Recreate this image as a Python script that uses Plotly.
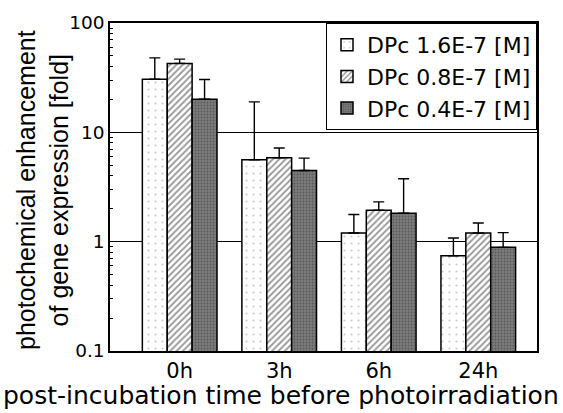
import plotly.graph_objects as go

categories = ["0h", "3h", "6h", "24h"]
series_names = ["DPc 1.6E-7 [M]", "DPc 0.8E-7 [M]", "DPc 0.4E-7 [M]"]
vals_16 = [30.6, 5.6, 1.20, 0.744]
vals_08 = [42.7, 5.86, 1.94, 1.20]
vals_04 = [20.1, 4.48, 1.82, 0.887]
err_top_16 = [48.0, 19.0, 1.77, 1.08]
err_top_08 = [46.7, 7.18, 2.31, 1.48]
err_top_04 = [30.4, 5.81, 3.76, 1.21]
x_title = "post-incubation time before photoirradiation"
y_title = "photochemical enhancement<br>of gene expression [fold]"

styles = [
    dict(bg="#ffffff", fg="#9a9a9a", shape=".", size=7, solidity=0.08),
    dict(bg="#ffffff", fg="#333333", shape="/", size=4.5, solidity=0.4),
    dict(bg="#7c7c7c", fg="#333333", shape=".", size=3, solidity=0.3),
]

WIDE = "DejaVu Sans, sans-serif"
NARROW = "Liberation Sans, Arial, sans-serif"

PL, PR, PT, PB = 110, 537, 23, 351
PW, PH = PR - PL, PB - PT

fig = go.Figure()
for name, vals, tops, st in zip(series_names,
                                [vals_16, vals_08, vals_04],
                                [err_top_16, err_top_08, err_top_04],
                                styles):
    plus = [t - v for t, v in zip(tops, vals)]
    fig.add_trace(go.Bar(
        x=categories, y=vals, name=name, legendgroup=name,
        marker=dict(color=st["bg"],
                    line=dict(color="black", width=1.5),
                    pattern=dict(shape=st["shape"], fgcolor=st["fg"], bgcolor=st["bg"],
                                 size=st["size"], solidity=st["solidity"])),
        error_y=dict(type="data", symmetric=False, array=plus,
                     arrayminus=[0] * len(vals), color="black",
                     thickness=1.4, width=5.5),
    ))

fig.update_layout(
    width=563, height=413,
    margin=dict(l=PL, r=563 - PR, t=PT, b=413 - PB),
    paper_bgcolor="white", plot_bgcolor="white",
    barmode="group", bargap=0.25, bargroupgap=0,
    font=dict(family=WIDE, color="black", size=20),
    showlegend=True,
    legend=dict(x=1, y=1, xanchor="right", yanchor="top",
                bgcolor="white", bordercolor="black", borderwidth=1,
                font=dict(size=22, family=WIDE), tracegroupgap=0,
                traceorder="grouped"),
    annotations=[
        dict(text=x_title, xref="paper", yref="paper",
             x=(281 - PL) / PW, y=(PB - 395) / PH,
             xanchor="center", yanchor="middle", showarrow=False,
             font=dict(size=25, family=WIDE, color="black")),
        dict(text=y_title, xref="paper", yref="paper", textangle=-90,
             x=(42 - PL) / PW, y=(PB - 190) / PH,
             xanchor="center", yanchor="middle", showarrow=False,
             font=dict(size=25, family=NARROW, color="black")),
    ],
)
fig.update_xaxes(
    type="category", range=[-0.70, 3.59],
    showline=True, linecolor="black", linewidth=1.5, mirror=True,
    ticks="", showgrid=False,
    tickfont=dict(size=21, family=WIDE),
)
fig.update_yaxes(
    type="log", range=[-1, 2],
    tickvals=[0.1, 1, 10, 100], ticktext=["0.1", "1", "10", "100"],
    showline=True, linecolor="black", linewidth=1.5, mirror=True,
    ticks="inside", ticklen=4, tickcolor="black",
    minor=dict(ticks="inside", ticklen=3, tickcolor="black", dtick="D1", showgrid=False),
    showgrid=True, gridcolor="black", gridwidth=1,
    tickfont=dict(size=18.5, family=WIDE),
)

fig.write_html("out.html")
